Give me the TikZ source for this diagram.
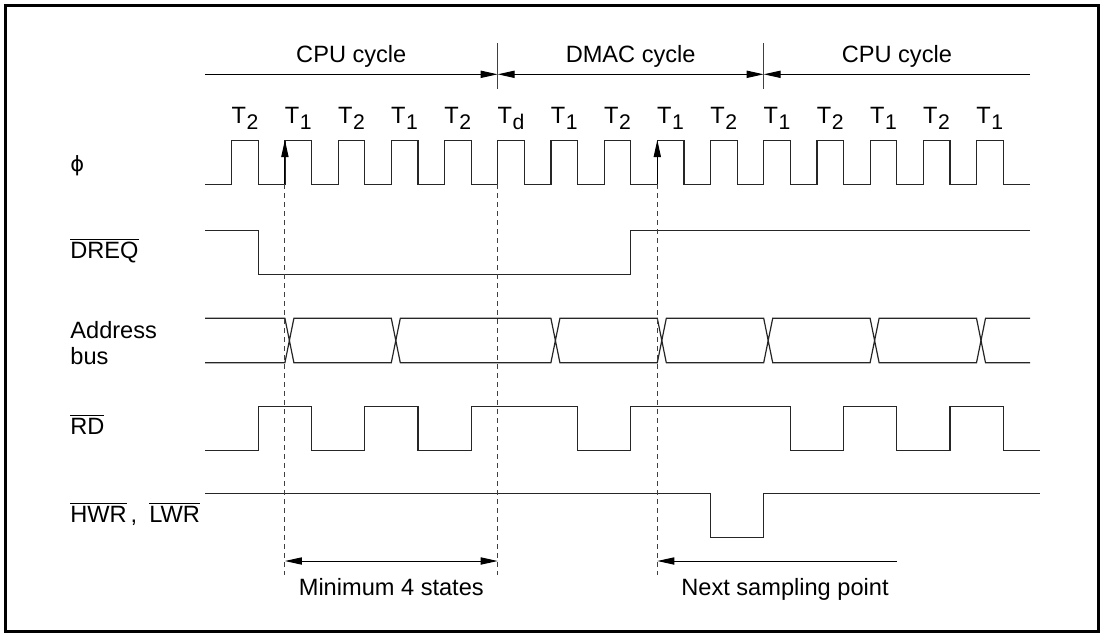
\documentclass[tikz,border=0pt]{standalone}
\usepackage{fontspec}
\setmainfont{Liberation Sans}
\newfontfamily\greekfont{DejaVu Sans}
\usetikzlibrary{arrows.meta}
\newcommand{\negsig}[1]{$\overline{\mbox{#1}}$}
\newcommand{\Tst}[1]{T\kern0.3pt\raisebox{-3pt}{\fontsize{10.6}{12}\selectfont #1}}

\begin{document}
\begin{tikzpicture}[
  x=0.5pt, y=-0.5pt,
  font=\fontsize{11.8}{13.3}\selectfont,
  wave/.style={line width=0.6pt, draw=black!85},
  guide/.style={line width=0.5pt, draw=black!75, dash pattern=on 2.5pt off 2pt},
  arr/.style={-{Triangle[length=8.5pt,width=3.6pt]}, line width=0.5pt},
  dbl/.style={{Triangle[length=8.5pt,width=3.6pt]}-{Triangle[length=8.5pt,width=3.6pt]}, line width=0.5pt},
  sig/.style={inner sep=0pt, anchor=base west},
  lbl/.style={inner sep=0pt, anchor=base}
]
  \useasboundingbox (0,0) rectangle (1103,633);
  \draw[line width=1.3pt] (5.3,5.3) rectangle (1098.3,631.7);

  \coordinate (cyc0) at (205,74.3);
  \coordinate (cyc1) at (497.7,74.3);
  \coordinate (cyc2) at (763.7,74.3);
  \coordinate (cyc3) at (1030,74.3);
  \draw[arr] (cyc0) -- (cyc1);
  \draw[dbl] (cyc1) -- (cyc2);
  \draw[arr] (cyc3) -- (cyc2);
  \foreach \c in {cyc1,cyc2}
    \draw[line width=0.5pt, black!75] ([yshift=15.6pt]\c) -- ([yshift=-7.4pt]\c);
  \node[lbl] (cpu1) at (351.3,62) {CPU cycle};
  \node[lbl] (dmac) at (630.7,62) {DMAC cycle};
  \node[lbl] (cpu2) at (896.9,62) {CPU cycle};

  \foreach \s [count=\k from 0] in {2,1,2,1,2,d,1,2,1,2,1,2,1,2,1}
    \node[lbl] (t\k) at ({245+53.2*\k},123.3) {\Tst{\s}};

  \node[sig] (lphi) at (70,171) {\greekfont\fontsize{10.5}{12}\selectfont ϕ};
  \node[sig] (ldreq) at (70,258.3) {\negsig{DREQ}};
  \node[inner sep=0pt, anchor=west, align=left] (lbus) at (70,343) {Address\\bus};
  \node[sig] (lrd) at (70,434) {\negsig{RD}};
  \node[sig] (lwr) at (70,522) {\negsig{HWR}\kern2pt,\kern6pt\negsig{LWR}};

  \draw[wave] (205,184.3) \foreach \k in {0,...,14} {
    -- ({231.7+53.2*\k},184.3) -- ++(0,-44) -- ++(26.6,0) -- ++(0,44) } -- (1030,184.3);
  \draw[wave] (205,230.7) -| (258.3,274.3) -| (630.7,230.7) -- (1030,230.7);
  \foreach \lv/\dv/\uv in {318.3/22.2/-22.2, 362.7/-22.2/22.2}
    \draw[wave] (205,\lv) \foreach \k in {1,3,6,8,10,12,14} {
      -- ({231.7+53.2*\k},\lv) -- ++(4.5,\dv) -- ++(4.5,\uv) } -- (1030,\lv);
  \draw[wave] (205,450.7) \foreach \k/\lv in {0/406.7,1/450.7,2/406.7,3/450.7,4/406.7,6/450.7,
    7/406.7,10/450.7,11/406.7,12/450.7,13/406.7,14/450.7} { -| ({258.3+53.2*\k},\lv) } -- (1040,450.7);
  \draw[wave] (205,493.3) -| (710.5,537.3) -| (763.7,493.3) -- (1040,493.3);

  \coordinate (smp1) at (284.9,184.3);
  \coordinate (tdst) at (497.7,184.3);
  \coordinate (smp2) at (657.3,184.3);
  \coordinate (smp1hi) at (284.9,140);
  \coordinate (smp2hi) at (657.3,140);
  \foreach \c in {smp1,tdst,smp2}
    \draw[guide] (\c) -- ++(0,391);
  \draw[arr] (smp1) -- (smp1hi);
  \draw[arr] (smp2) -- (smp2hi);

  \coordinate (min0) at (284.9,561);
  \coordinate (min1) at (497.7,561);
  \coordinate (nxt0) at (896.7,561);
  \coordinate (nxt1) at (657.3,561);
  \draw[dbl] (min0) -- (min1);
  \draw[arr] (nxt0) -- (nxt1);
  \node[lbl] (mintxt) at (391.3,595) {Minimum 4 states};
  \node[lbl] (nxttxt) at (785,595) {Next sampling point};
\end{tikzpicture}
\end{document}
